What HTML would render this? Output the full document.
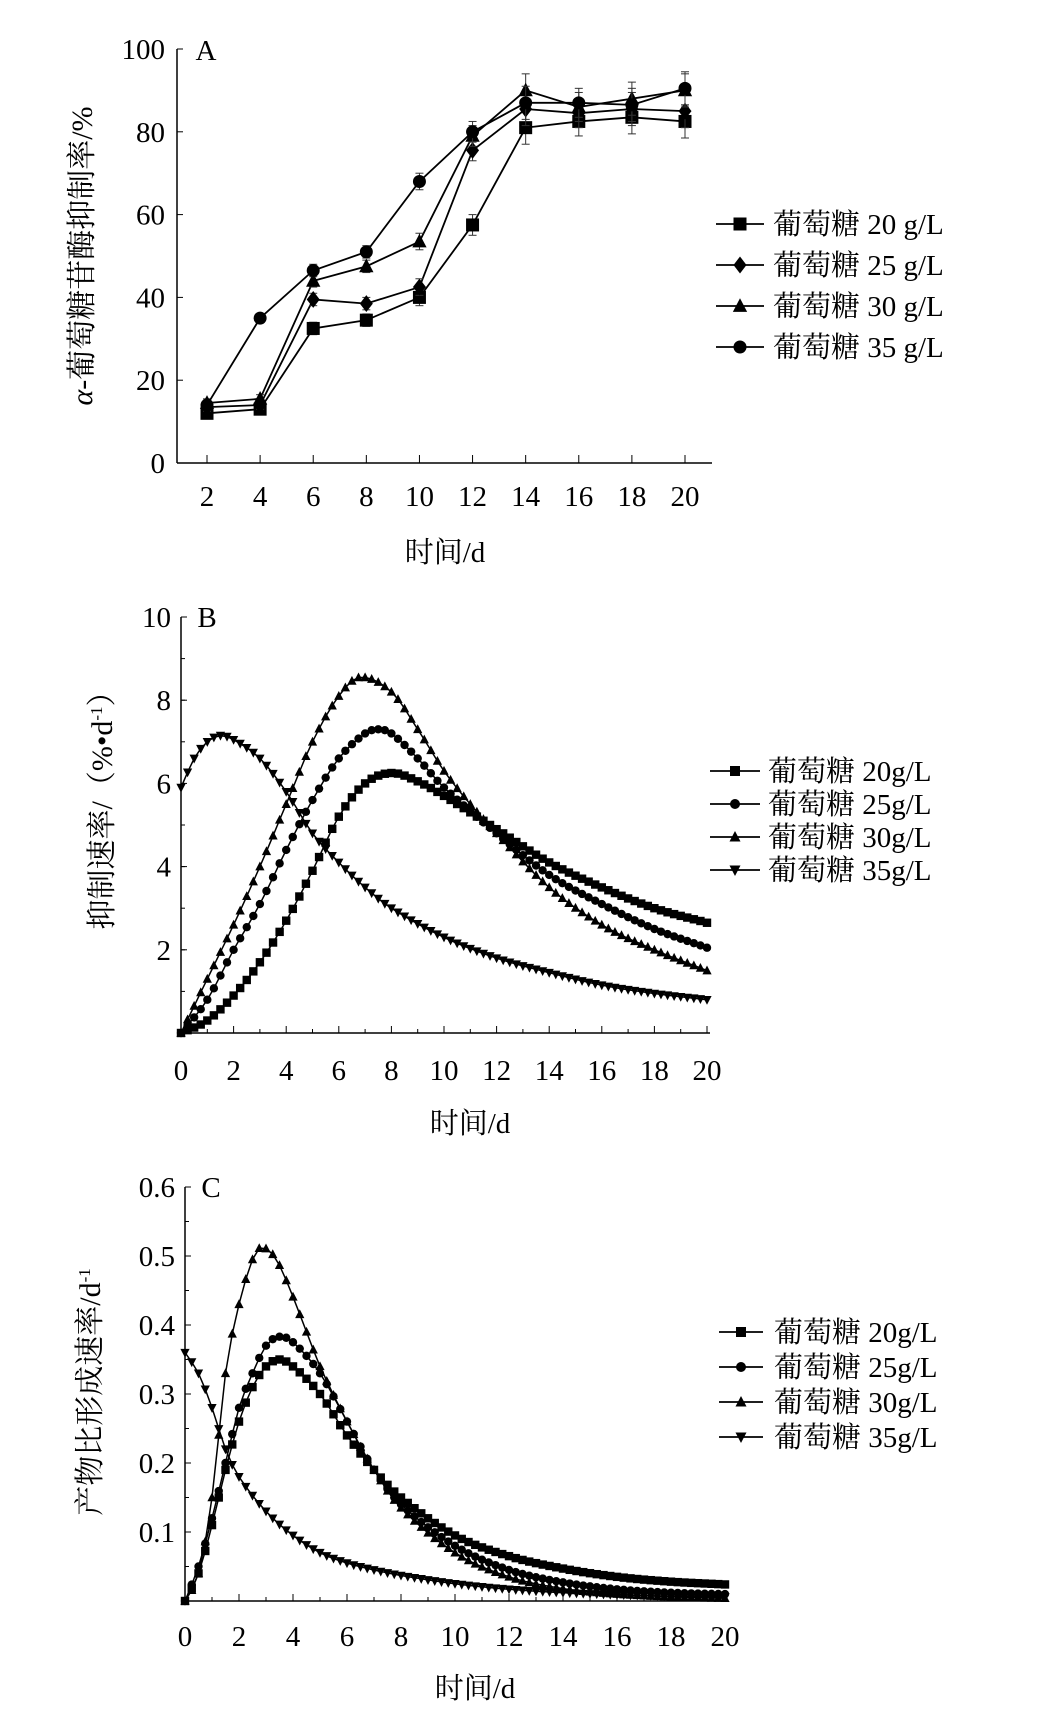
<!DOCTYPE html>
<html><head><meta charset="utf-8">
<style>
html,body{margin:0;padding:0;background:#fff;}
svg{display:block;font-family:"Liberation Serif","Noto Serif CJK SC","Noto Sans CJK SC",serif;}
</style></head>
<body>
<svg id="s" width="1041" height="1731" viewBox="0 0 1041 1731" xmlns="http://www.w3.org/2000/svg"></svg>
<script>
const S=document.getElementById('s');let h='';
function add(x){h+=x;}
function marker(type,x,y,r){
  if(type==='sq')return `<rect x="${x-r}" y="${y-r}" width="${2*r}" height="${2*r}" fill="#000"/>`;
  if(type==='ci')return `<circle cx="${x}" cy="${y}" r="${r}" fill="#000"/>`;
  if(type==='tu')return `<polygon points="${x},${y-r*1.2} ${x-r*1.1},${y+r*0.9} ${x+r*1.1},${y+r*0.9}" fill="#000"/>`;
  if(type==='td')return `<polygon points="${x},${y+r*1.2} ${x-r*1.1},${y-r*0.9} ${x+r*1.1},${y-r*0.9}" fill="#000"/>`;
  if(type==='di')return `<polygon points="${x},${y-r*1.3} ${x-r},${y} ${x},${y+r*1.3} ${x+r},${y}" fill="#000"/>`;
}
function interp(pts,t){
  for(let i=0;i<pts.length-1;i++){
    if(t<=pts[i+1][0]){
      const p0=pts[Math.max(i-1,0)],p1=pts[i],p2=pts[i+1],p3=pts[Math.min(i+2,pts.length-1)];
      const u=(t-p1[0])/(p2[0]-p1[0]);
      const m1=(p2[1]-p0[1])/(p2[0]-p0[0]||1)*(p2[0]-p1[0]);
      const m2=(p3[1]-p1[1])/(p3[0]-p1[0]||1)*(p2[0]-p1[0]);
      const u2=u*u,u3=u2*u;
      return (2*u3-3*u2+1)*p1[1]+(u3-2*u2+u)*m1+(-2*u3+3*u2)*p2[1]+(u3-u2)*m2;
    }
  }
  return pts[pts.length-1][1];
}
function txt(x,y,s,size,anchor,extra){add(`<text x="${x}" y="${y}" font-size="${size}" text-anchor="${anchor||'middle'}" ${extra||''}>${s}</text>`);}

// ---------- Chart A ----------
(function(){
  const x0=177,yT=49,yB=463,xE=712;
  const X=d=>207+(d-2)*(685-207)/18, Y=v=>yB-(v/100)*(yB-yT);
  add(`<line x1="${x0}" y1="${yT}" x2="${x0}" y2="${yB}" stroke="#000" stroke-width="1.5"/>`);
  add(`<line x1="${x0}" y1="${yB}" x2="${xE}" y2="${yB}" stroke="#000" stroke-width="1.5"/>`);
  for(let v=0;v<=100;v+=20){add(`<line x1="${x0}" y1="${Y(v)}" x2="${x0+6}" y2="${Y(v)}" stroke="#000"/>`);txt(x0-12,Y(v)+10,v,29,'end');}
  for(let d=2;d<=20;d+=2){add(`<line x1="${X(d)}" y1="${yB}" x2="${X(d)}" y2="${yB-8}" stroke="#000"/>`);txt(X(d),506,d,29);}
  txt(206,60,'A',29);
  txt(445,562,'时间/d',29);
  add(`<text transform="translate(92,256) rotate(-90)" font-size="30" text-anchor="middle"><tspan font-style="italic">α</tspan>-葡萄糖苷酶抑制率/%</text>`);
  const D={sq:[12,13,32.5,34.5,40,57.5,81,82.5,83.5,82.5],di:[13.5,14,39.5,38.5,42.5,75.5,85.5,84.5,85.5,85],tu:[14.5,15.5,44,47.5,53.5,79,90,86,88,90],ci:[14,35,46.5,51,68,80,87,87,86.5,90.5]};
  const E=[1,1,1.5,1.5,2,2.5,4,3.5,4,4];
  for(const k in D){
    let p=D[k].map((v,i)=>`${X(2+2*i)},${Y(v)}`).join(' ');
    add(`<polyline points="${p}" fill="none" stroke="#000" stroke-width="1.8"/>`);
    D[k].forEach((v,i)=>{const x=X(2+2*i);const e=E[i]*(yB-yT)/100;
      add(`<line x1="${x}" y1="${Y(v)-e}" x2="${x}" y2="${Y(v)+e}" stroke="#333"/><line x1="${x-4}" y1="${Y(v)-e}" x2="${x+4}" y2="${Y(v)-e}" stroke="#333"/><line x1="${x-4}" y1="${Y(v)+e}" x2="${x+4}" y2="${Y(v)+e}" stroke="#333"/>`);
      add(marker(k,x,Y(v),6.5));});
  }
  const L=[['sq','葡萄糖 20 g/L'],['di','葡萄糖 25 g/L'],['tu','葡萄糖 30 g/L'],['ci','葡萄糖 35 g/L']];
  L.forEach((l,i)=>{const y=224+i*41;add(`<line x1="716" y1="${y}" x2="764" y2="${y}" stroke="#000" stroke-width="1.8"/>`);add(marker(l[0],740,y,6.5));txt(773,y+10,l[1],29,'start');});
})();

function curveChart(o){
  const {x0,yT,yB,xE,ymax,yticks,X20,lab,series,ylab,ylx,yly,fmt,legy,legsp,ltx}=o;
  const X=d=>x0+d*(X20-x0)/20, Y=v=>yB-(v/ymax)*(yB-yT);
  add(`<line x1="${x0}" y1="${yT}" x2="${x0}" y2="${yB}" stroke="#000" stroke-width="1.5"/>`);
  add(`<line x1="${x0}" y1="${yB}" x2="${xE}" y2="${yB}" stroke="#000" stroke-width="1.5"/>`);
  yticks.forEach(v=>{add(`<line x1="${x0}" y1="${Y(v)}" x2="${x0+6}" y2="${Y(v)}" stroke="#000"/>`);txt(x0-10,Y(v)+10,fmt(v),29,'end');});
  for(let i=1;i<yticks.length*2;i++){const v=ymax*i/(yticks.length*2);add(`<line x1="${x0}" y1="${Y(v)}" x2="${x0+4}" y2="${Y(v)}" stroke="#000"/>`);}
  for(let d=0;d<=20;d++){add(`<line x1="${X(d)}" y1="${yB}" x2="${X(d)}" y2="${yB-(d%2?4:7)}" stroke="#000"/>`);if(d%2==0)txt(X(d),o.tly,d,29);}
  txt(x0+26,yT+10,lab,29);
  txt(o.xlx,o.xly,'时间/d',29);
  add(`<text transform="translate(${ylx},${yly}) rotate(-90)" font-size="30" text-anchor="middle">${ylab}</text>`);
  series.forEach(s=>{
    let p=[],m='';
    for(let t=0;t<=20.001;t+=0.25){const v=Math.max(0,interp(s.pts,t));p.push(`${X(t).toFixed(1)},${Y(v).toFixed(1)}`);m+=marker(s.m,X(t),Y(v),4.2);}
    add(`<polyline points="${p.join(' ')}" fill="none" stroke="#000" stroke-width="1.5"/>`+m);
  });
  series.forEach((s,i)=>{const y=legy+i*legsp;add(`<line x1="${o.llx1}" y1="${y}" x2="${o.llx2}" y2="${y}" stroke="#000" stroke-width="1.8"/>`);add(marker(s.m,(o.llx1+o.llx2)/2,y,5));txt(ltx,y+10,s.name,29,'start');});
}

curveChart({x0:181,yT:617,yB:1033,xE:710,X20:707,ymax:10,yticks:[2,4,6,8,10],fmt:v=>v,lab:'B',tly:1080,xlx:470,xly:1133,
 ylab:'抑制速率/（%•d<tspan font-size="17" dy="-10">-1</tspan><tspan dy="10">）</tspan>',ylx:112,yly:803,
 legy:771,legsp:33,llx1:710,llx2:760,ltx:768,
 series:[
 {m:'sq',name:'葡萄糖 20g/L',pts:[[0,0],[1,0.3],[2,0.9],[3,1.7],[4,2.7],[5,3.9],[6,5.2],[7,6.0],[8,6.25],[9,6.05],[10,5.7],[12,4.9],[14,4.1],[16,3.5],[18,3.0],[20,2.65]]},
 {m:'ci',name:'葡萄糖 25g/L',pts:[[0,0],[1,0.8],[2,2.0],[3,3.1],[4,4.4],[5,5.6],[6,6.6],[7,7.2],[7.5,7.3],[8,7.2],[9,6.6],[10,5.9],[12,4.8],[14,3.8],[16,3.1],[18,2.5],[20,2.05]]},
 {m:'tu',name:'葡萄糖 30g/L',pts:[[0,0],[1,1.3],[2,2.6],[3,4.0],[4,5.5],[5,7.0],[6,8.1],[6.8,8.55],[8,8.2],[9,7.3],[10,6.3],[11,5.5],[12,4.8],[14,3.5],[16,2.6],[18,2.0],[20,1.5]]},
 {m:'td',name:'葡萄糖 35g/L',pts:[[0,5.9],[0.5,6.6],[1,7.0],[1.5,7.15],[2,7.05],[3,6.6],[4,5.8],[5,4.8],[6,4.1],[7,3.5],[8,3.0],[10,2.3],[12,1.8],[14,1.45],[16,1.15],[18,0.95],[20,0.8]]}
 ]});

curveChart({x0:185,yT:1187,yB:1601,xE:727,X20:725,ymax:0.6,yticks:[0.1,0.2,0.3,0.4,0.5,0.6],fmt:v=>v.toFixed(1),lab:'C',tly:1646,xlx:475,xly:1698,
 ylab:'产物比形成速率/d<tspan font-size="17" dy="-10">-1</tspan>',ylx:100,yly:1392,
 legy:1332,legsp:35,llx1:719,llx2:763,ltx:774,
 series:[
 {m:'sq',name:'葡萄糖 20g/L',pts:[[0,0],[0.5,0.04],[1,0.11],[1.5,0.19],[2,0.26],[2.5,0.31],[3,0.34],[3.5,0.35],[4,0.34],[5,0.30],[6,0.24],[7,0.19],[8,0.15],[10,0.095],[12,0.065],[14,0.047],[16,0.035],[18,0.028],[20,0.024]]},
 {m:'ci',name:'葡萄糖 25g/L',pts:[[0,0],[0.5,0.05],[1,0.12],[1.5,0.2],[2,0.28],[2.5,0.33],[3,0.37],[3.5,0.383],[4,0.375],[5,0.33],[6,0.26],[7,0.19],[8,0.14],[10,0.08],[12,0.045],[14,0.027],[16,0.017],[18,0.012],[20,0.01]]},
 {m:'tu',name:'葡萄糖 30g/L',pts:[[0,0],[0.5,0.04],[1,0.15],[1.5,0.33],[2,0.43],[2.5,0.495],[2.8,0.512],[3.3,0.5],[3.8,0.46],[4.5,0.39],[5,0.34],[6,0.26],[7,0.19],[8,0.135],[10,0.07],[12,0.035],[14,0.018],[16,0.01],[18,0.006],[20,0.004]]},
 {m:'td',name:'葡萄糖 35g/L',pts:[[0,0.36],[0.5,0.33],[1,0.28],[1.5,0.22],[2,0.18],[3,0.13],[4,0.095],[5,0.07],[6,0.055],[7,0.045],[8,0.037],[10,0.025],[12,0.017],[14,0.012],[16,0.009],[18,0.007],[20,0.006]]}
 ]});
S.innerHTML=h;
</script>
</body></html>
